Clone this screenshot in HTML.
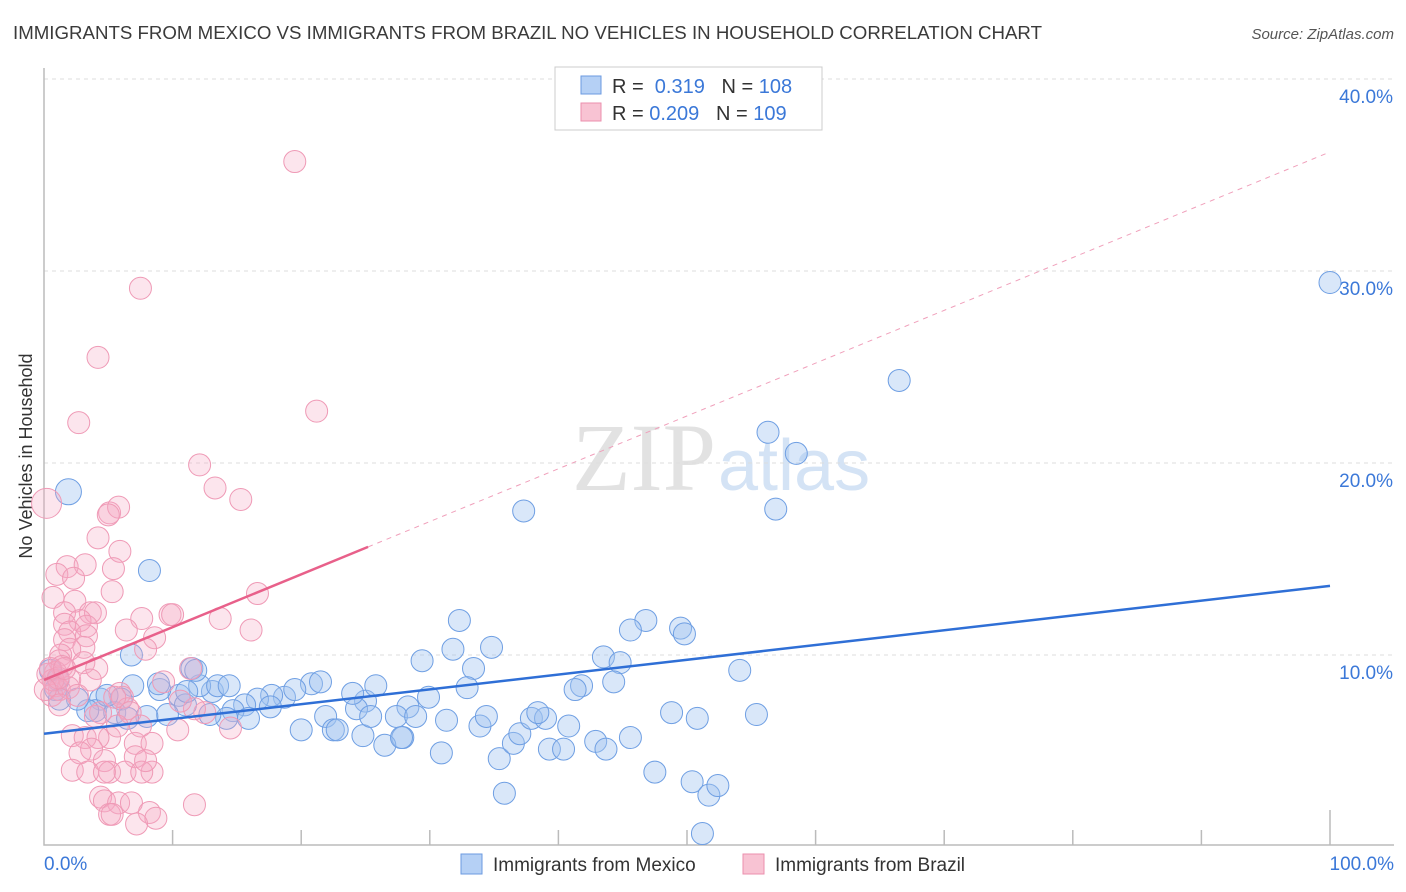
<!DOCTYPE html>
<html><head><meta charset="utf-8"><style>
body{margin:0;background:#fff;font-family:"Liberation Sans",sans-serif;}
svg{display:block}
</style></head><body>
<svg id="chart" width="1406" height="892" xmlns="http://www.w3.org/2000/svg">
<text x="13" y="39" font-size="18" fill="#3a3a3a" textLength="1029" lengthAdjust="spacingAndGlyphs">IMMIGRANTS FROM MEXICO VS IMMIGRANTS FROM BRAZIL NO VEHICLES IN HOUSEHOLD CORRELATION CHART</text>
<text x="1394" y="39" font-size="15" fill="#555" font-style="italic" text-anchor="end">Source: ZipAtlas.com</text>
<text x="32" y="456" font-size="18" fill="#333" text-anchor="middle" transform="rotate(-90 32 456)">No Vehicles in Household</text>
<text x="716" y="490" font-size="96" fill="#e2e2e2" text-anchor="end" font-family="Liberation Serif,serif">ZIP</text>
<text x="718" y="490" font-size="72" fill="#d4e3f5">atlas</text>
<g id="grid"></g><g id="axes"></g>
<g id="pts-blue"></g><g id="pts-pink"></g><g id="trends"></g>
<g>
<rect x="555" y="67" width="267" height="63" fill="#fff" stroke="#ccc"/>
<rect x="581" y="76" width="20" height="18" fill="#b5d0f5" stroke="#6b9ae0"/>
<text x="612" y="93" font-size="20" fill="#333">R = <tspan fill="#3b78d8">&#160;0.319</tspan>&#160;&#160;&#160;N = <tspan fill="#3b78d8">108</tspan></text>
<rect x="581" y="103" width="20" height="18" fill="#f8c3d3" stroke="#eb8fae"/>
<text x="612" y="120" font-size="20" fill="#333">R = <tspan fill="#3b78d8">0.209</tspan>&#160;&#160;&#160;N = <tspan fill="#3b78d8">109</tspan></text>
</g>
<g>
<rect x="461" y="854" width="21" height="20" fill="#b5d0f5" stroke="#6b9ae0"/>
<text x="493" y="871" font-size="19" fill="#333">Immigrants from Mexico</text>
<rect x="743" y="854" width="21" height="20" fill="#f8c3d3" stroke="#eb8fae"/>
<text x="775" y="871" font-size="19" fill="#333">Immigrants from Brazil</text>
</g>
</svg>
<script>
const blueX=[1.9,8.2,6.8,37.3,56.3,58.5,56.9,66.5,100,32.3,34.8,31.8,33.4,29.4,46.8,45.6,49.5,49.8,43.5,44.8,54.1,44.3,32.9,41.8,41.3,29.9,28.3,25.0,24.3,25.8,24.0,20.8,21.5,18.7,19.5,17.7,16.6,17.6,15.6,14.7,14.2,15.9,12.9,13.1,12.1,10.5,11.0,9.6,8.0,9.0,6.9,6.0,4.4,4.0,3.4,5.5,6.5,4.9,2.6,1.1,0.9,0.5,1.2,20.0,21.9,22.5,22.8,24.8,25.4,27.4,27.9,28.9,26.5,27.8,30.9,31.3,33.9,34.4,35.4,36.5,35.8,37.0,37.9,39.0,38.4,39.3,40.4,40.8,42.9,43.7,45.6,47.5,48.8,50.8,50.4,51.7,52.4,51.2,55.4,13.5,14.4,11.5,11.8,8.9,11.1];
const blueY=[18.5,14.4,10.0,17.5,21.6,20.5,17.6,24.3,29.4,11.8,10.4,10.3,9.3,9.7,11.8,11.3,11.4,11.1,9.9,9.6,9.2,8.6,8.3,8.4,8.2,7.8,7.3,7.6,7.2,8.4,8.0,8.5,8.6,7.8,8.2,7.9,7.7,7.3,7.4,7.1,6.7,6.7,6.9,8.1,8.4,7.9,7.4,6.9,6.8,8.2,8.4,7.7,7.7,7.1,7.1,7.0,6.7,7.9,7.7,8.7,8.2,9.2,7.7,6.1,6.8,6.1,6.1,5.8,6.8,6.8,5.7,6.8,5.3,5.7,4.9,6.6,6.3,6.8,4.6,5.4,2.8,5.9,6.7,6.7,7.0,5.1,5.1,6.3,5.5,5.1,5.7,3.9,7.0,6.7,3.4,2.7,3.2,0.7,6.9,8.4,8.4,9.3,9.2,8.5,8.1];
const pinkX=[0.2,19.5,7.5,4.2,21.2,2.7,12.1,13.3,15.3,5.1,5.8,5.0,4.2,5.9,1.8,3.2,1.0,2.3,5.4,5.3,0.7,2.4,1.6,3.6,4.0,2.8,1.6,3.3,2.0,3.3,1.6,3.1,2.0,1.3,3.1,4.1,1.2,0.9,0.3,0.9,1.2,0.6,1.9,7.6,9.8,10.0,13.7,6.4,8.6,16.1,16.6,7.9,11.4,9.3,12.5,5.9,6.1,4.4,4.0,6.5,2.2,3.2,5.1,4.2,7.1,8.4,3.7,2.8,7.1,4.7,2.2,3.4,5.1,6.3,8.4,7.6,4.7,4.4,4.7,5.8,5.1,6.8,8.2,5.3,8.7,7.2,11.7,14.5,10.4,1.4,2.0,0.7,1.1,0.5,1.6,0.1,2.6,3.6,5.5,6.7,5.7,7.5,1.2,7.9,11.7,10.6];
const pinkY=[17.9,35.7,29.1,25.5,22.7,22.1,19.9,18.7,18.1,17.4,17.7,17.3,16.1,15.4,14.6,14.7,14.2,14.0,14.5,13.3,13.0,12.8,12.2,12.2,12.2,11.8,11.6,11.5,11.2,11.0,10.8,10.4,10.3,10.0,9.6,9.3,9.7,9.1,9.0,8.4,8.2,7.9,8.3,11.9,12.1,12.1,11.9,11.3,10.9,11.3,13.2,10.3,9.3,8.6,7.0,8.0,7.8,7.0,6.8,7.2,5.8,5.7,5.7,5.7,5.4,5.4,5.1,4.9,4.7,4.5,4.0,3.9,3.9,3.9,3.9,3.9,3.9,2.6,2.4,2.3,1.7,2.3,1.8,1.7,1.5,1.2,2.2,6.2,6.1,9.4,8.7,8.7,8.8,9.3,9.3,8.2,7.9,8.7,7.8,7.0,6.3,6.3,7.4,4.5,7.2,7.6];
const yTicks=[10,20,30,40];
const yTickLabels=["10.0%","20.0%","30.0%","40.0%"];
const xTickLabels=["0.0%","100.0%"];
const blueTrend=[5.9,13.6];
const pinkTrend=[8.7,36.2];
const pinkSolidEnd=25.2;
const X=v=>44+v*12.86, Y=v=>847-v*19.2;
const NS="http://www.w3.org/2000/svg";
function mk(tag,attrs,parent){const e=document.createElementNS(NS,tag);for(const k in attrs)e.setAttribute(k,attrs[k]);parent.appendChild(e);return e;}
const grid=document.getElementById('grid'), axes=document.getElementById('axes');
yTicks.forEach((t,i)=>{
 const l=mk('line',{x1:44,x2:1394,y1:Y(t),y2:Y(t),stroke:'#ddd','stroke-dasharray':'4,4'},grid);
 
 
 const tx=mk('text',{x:1393,y:Y(t)+24,'font-size':19,fill:'#3b78d8','text-anchor':'end'},axes);
 tx.textContent=yTickLabels[i];
 
 
});
const ax=mk('path',{d:'M44 68V845H1394',fill:'none',stroke:'#bbb','stroke-width':1.5},axes);


for(let i=1;i<=10;i++){
 const t=mk('line',{x1:X(i*10),x2:X(i*10),y1:i==10?810:830,y2:845,stroke:'#bbb','stroke-width':1.5},axes);
 
 
}
[[0,'start',44],[100,'end',1394]].forEach((d,i)=>{
 const tx=mk('text',{x:d[2],y:870,'font-size':19,fill:'#3b78d8','text-anchor':d[1]},axes);
 tx.textContent=xTickLabels[i];
 
 
});
function pts(xs,ys,g,fill,stroke,name){
 xs.forEach((x,i)=>{
  const big=(name==='point-mexico'&&i===0)?13:(name==='point-brazil'&&i===0)?15:11;
  const c=mk('circle',{cx:X(x),cy:Y(ys[i]),r:big,fill:fill,stroke:stroke,'stroke-width':1},g);
  
  
 });
}
pts(blueX,blueY,document.getElementById('pts-blue'),'rgba(160,196,240,0.4)','#6f9fe3','point-mexico');
pts(pinkX,pinkY,document.getElementById('pts-pink'),'rgba(244,170,195,0.3)','#ef9ab6','point-brazil');
const tr=document.getElementById('trends');
const bl=mk('line',{x1:X(0),y1:Y(blueTrend[0]),x2:X(100),y2:Y(blueTrend[1]),stroke:'#2f6fd6','stroke-width':2.5},tr);


const pSlope=(pinkTrend[1]-pinkTrend[0])/100;
const pd=mk('line',{x1:X(pinkSolidEnd),y1:Y(pinkTrend[0]+pSlope*pinkSolidEnd),x2:X(100),y2:Y(pinkTrend[1]),stroke:'#f0a0bb','stroke-width':1,'stroke-dasharray':'5,5'},tr);


const pl=mk('line',{x1:X(0),y1:Y(pinkTrend[0]),x2:X(pinkSolidEnd),y2:Y(pinkTrend[0]+pSlope*pinkSolidEnd),stroke:'#e8608a','stroke-width':2.5},tr);


</script>
</body></html>
